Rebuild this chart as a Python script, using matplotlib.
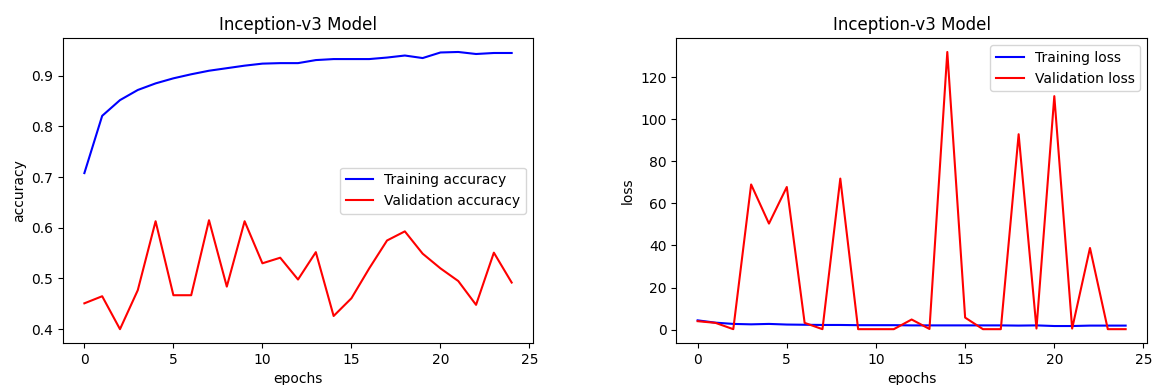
import matplotlib
matplotlib.use("Agg")
import matplotlib.pyplot as plt

epochs = list(range(25))
train_acc = [0.708, 0.821, 0.852, 0.872, 0.885, 0.895, 0.903, 0.910, 0.915, 0.920,
             0.924, 0.925, 0.925, 0.931, 0.933, 0.933, 0.933, 0.936, 0.940, 0.935,
             0.946, 0.947, 0.943, 0.945, 0.945]
val_acc = [0.451, 0.465, 0.400, 0.477, 0.613, 0.467, 0.467, 0.615, 0.484, 0.613,
           0.530, 0.541, 0.498, 0.552, 0.426, 0.461, 0.520, 0.575, 0.593, 0.549,
           0.520, 0.495, 0.448, 0.551, 0.492]
train_loss = [4.4, 3.3, 2.7, 2.5, 2.7, 2.4, 2.3, 2.2, 2.2, 2.1,
              2.1, 2.1, 2.0, 2.0, 2.0, 2.0, 2.0, 2.0, 1.9, 2.0,
              1.7, 1.7, 1.9, 1.9, 1.9]
val_loss = [4.0, 3.2, 0.2, 69.0, 50.4, 67.8, 3.2, 0.2, 71.8, 0.2,
            0.2, 0.2, 4.8, 0.3, 132.0, 5.7, 0.2, 0.2, 92.9, 0.5,
            111.0, 0.5, 38.8, 0.2, 0.2]

title = "Inception-v3 Model"

fig = plt.figure(figsize=(11.52, 3.85), dpi=100)
ax1 = fig.add_axes([0.0547, 0.109, 0.408, 0.792])
ax2 = fig.add_axes([0.587, 0.109, 0.4087, 0.792])

ax1.plot(epochs, train_acc, 'b', label='Training accuracy')
ax1.plot(epochs, val_acc, 'r', label='Validation accuracy')
ax1.set_title(title, fontsize=12)
ax1.set_xlabel('epochs', fontsize=10)
ax1.set_ylabel('accuracy', fontsize=10)
ax1.tick_params(labelsize=10)
ax1.legend(loc='center right', fontsize=10)

ax2.plot(epochs, train_loss, 'b', label='Training loss')
ax2.plot(epochs, val_loss, 'r', label='Validation loss')
ax2.set_title(title, fontsize=12)
ax2.set_xlabel('epochs', fontsize=10)
ax2.set_ylabel('loss', fontsize=10)
ax2.tick_params(labelsize=10)
ax2.legend(loc='upper right', fontsize=10)

fig.savefig("out.png", dpi=100)
